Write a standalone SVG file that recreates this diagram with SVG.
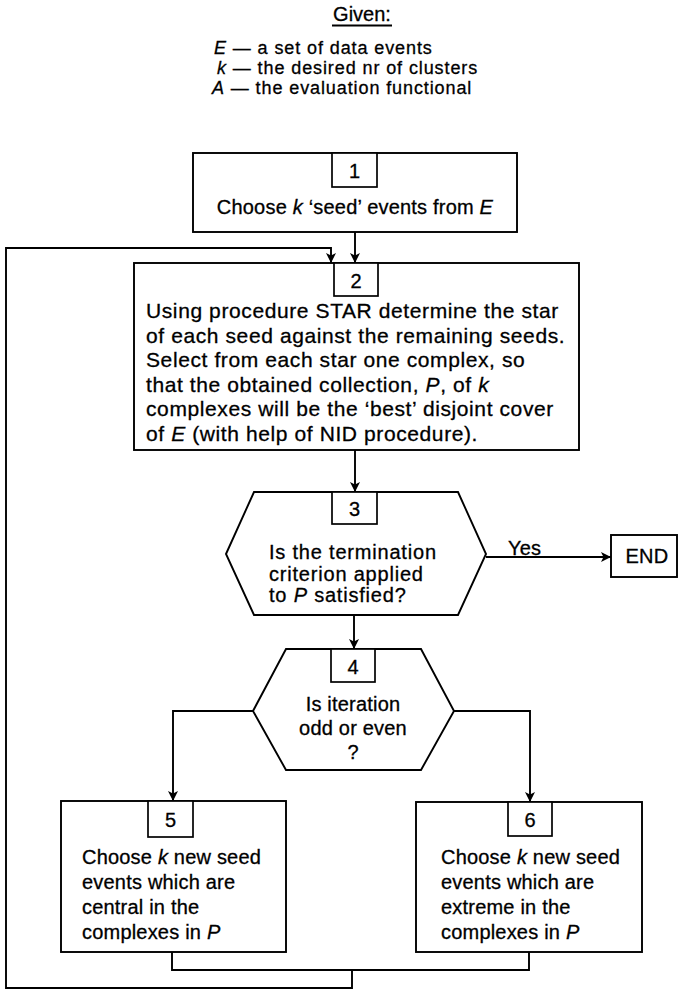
<svg xmlns="http://www.w3.org/2000/svg" width="679" height="990" viewBox="0 0 679 990">
<style>
text { font-family: "Liberation Sans", Arial, Helvetica, sans-serif; font-size: 20px; fill: #000; stroke: #000; stroke-width: 0.3; }
.box { fill: #fff; stroke: #000; stroke-width: 1.9; }
.num { fill: #fff; stroke: #000; stroke-width: 1.7; }
.ln { fill: none; stroke: #000; stroke-width: 1.9; }
.arr { fill: none; stroke: #000; stroke-width: 1.9; marker-end: url(#ah); }
.c { text-anchor: middle; }
.i { font-style: italic; }
.g { font-size: 18px; letter-spacing: 0.9px; }
.b2 { font-size: 21px; letter-spacing: 0.6px; }
.d3 { letter-spacing: 0.8px; }
.bx { letter-spacing: 0.2px; }
</style>
<defs>
<marker id="ah" viewBox="0 0 10 10" refX="10" refY="5" markerWidth="10" markerHeight="10" markerUnits="userSpaceOnUse" orient="auto">
<path d="M0,0 L10,5 L0,10 L2.5,5 z" fill="#000"/>
</marker>
</defs>
<rect width="679" height="990" fill="#fff"/>

<g id="given">
<text x="362" y="21" class="c">Given:</text>
<line x1="332" y1="25.5" x2="392" y2="25.5" class="ln" stroke-width="1.3"/>
<text class="g" x="214" y="54"><tspan class="i">E</tspan> — a set of data events</text>
<text class="g" x="217" y="74"><tspan class="i">k</tspan> — the desired nr of clusters</text>
<text class="g" x="212" y="94"><tspan class="i">A</tspan> — the evaluation functional</text>
</g>

<g id="connectors">
<path class="arr" d="M355,232 V263"/>
<path class="arr" d="M352,970 V988 H6 V248 H331 V263"/>
<path class="arr" d="M355,450 V492"/>
<path class="arr" d="M486,557 H611"/>
<path class="arr" d="M354,615 V649"/>
<path class="arr" d="M253,711 H173 V801"/>
<path class="arr" d="M454,711 H530 V802"/>
<path class="ln" d="M172,952 V970 H529 V952"/>
<text class="bx" x="508" y="555">Yes</text>
</g>

<g id="node1">
<rect class="box" x="193" y="153" width="324" height="79"/>
<rect class="num" x="332" y="153" width="45" height="34"/>
<text x="354.5" y="178" class="c">1</text>
<text x="355" y="214" class="c bx">Choose <tspan class="i">k</tspan> ‘seed’ events from <tspan class="i">E</tspan></text>
</g>

<g id="node2">
<rect class="box" x="134" y="263" width="445" height="187"/>
<rect class="num" x="334" y="263" width="44" height="33"/>
<text x="356" y="288" class="c">2</text>
<text class="b2" x="146" y="318">Using procedure STAR determine the star</text>
<text class="b2" x="146" y="342.5">of each seed against the remaining seeds.</text>
<text class="b2" x="146" y="367">Select from each star one complex, so</text>
<text class="b2" x="146" y="391.5">that the obtained collection, <tspan class="i">P</tspan>, of <tspan class="i">k</tspan></text>
<text class="b2" x="146" y="416">complexes will be the ‘best’ disjoint cover</text>
<text class="b2" x="146" y="440.5">of <tspan class="i">E</tspan> (with help of NID procedure).</text>
</g>

<g id="node3">
<polygon class="box" points="226,554 254,492 458,492 486,554 458,615 254,615"/>
<rect class="num" x="332" y="492" width="45" height="32"/>
<text x="354.5" y="516" class="c">3</text>
<text class="d3" x="269" y="559">Is the termination</text>
<text class="d3" x="269" y="580.5">criterion applied</text>
<text class="d3" x="269" y="602">to <tspan class="i">P</tspan> satisfied?</text>
</g>

<g id="end">
<rect class="box" x="611" y="535" width="66" height="42"/>
<text x="647" y="563" class="c bx">END</text>
</g>

<g id="node4">
<polygon class="box" points="253,711 286,649 421,649 454,711 421,770 286,770"/>
<rect class="num" x="331" y="649" width="44" height="33"/>
<text x="353" y="674" class="c">4</text>
<text x="353" y="711" class="c bx">Is iteration</text>
<text x="353" y="735" class="c bx">odd or even</text>
<text x="353" y="759" class="c">?</text>
</g>

<g id="node5">
<rect class="box" x="61" y="801" width="225" height="151"/>
<rect class="num" x="148" y="801" width="45" height="36"/>
<text x="170.5" y="827" class="c">5</text>
<text class="bx" x="82" y="864">Choose <tspan class="i">k</tspan> new seed</text>
<text class="bx" x="82" y="889">events which are</text>
<text class="bx" x="82" y="914">central in the</text>
<text class="bx" x="82" y="939">complexes in <tspan class="i">P</tspan></text>
</g>

<g id="node6">
<rect class="box" x="416" y="802" width="226" height="150"/>
<rect class="num" x="508" y="802" width="44" height="34"/>
<text x="530" y="827" class="c">6</text>
<text class="bx" x="441" y="864">Choose <tspan class="i">k</tspan> new seed</text>
<text class="bx" x="441" y="889">events which are</text>
<text class="bx" x="441" y="914">extreme in the</text>
<text class="bx" x="441" y="939">complexes in <tspan class="i">P</tspan></text>
</g>
</svg>
